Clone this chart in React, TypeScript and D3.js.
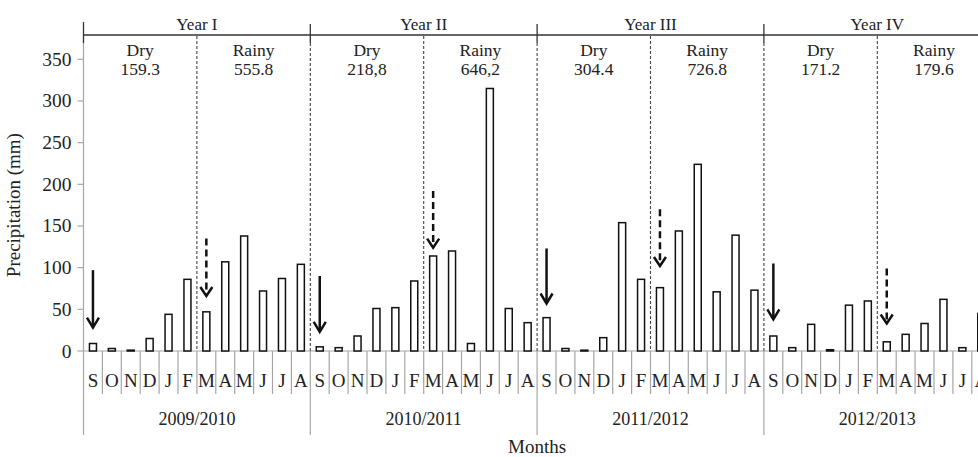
import React from "react";
import * as d3 from "d3";

const months = ["S", "O", "N", "D", "J", "F", "M", "A", "M", "J", "J", "A"];
const seasons = ["2009/2010", "2010/2011", "2011/2012", "2012/2013"];
const yearLabels = ["Year I", "Year II", "Year III", "Year IV"];
const dryTotals = ["159.3", "218,8", "304.4", "171.2"];
const rainyTotals = ["555.8", "646,2", "726.8", "179.6"];

// monthly precipitation (mm), Sep -> Aug
const precip2009 = [9, 3, 1, 15, 44, 86, 47, 107, 138, 72, 87, 104];
const precip2010 = [5, 4, 18, 51, 52, 84, 114, 120, 9, 315, 51, 34];
const precip2011 = [40, 3, 1, 16, 154, 86, 76, 144, 224, 71, 139, 73];
const precip2012 = [18, 4, 32, 1.5, 55, 60, 11, 20, 33, 62, 4, 45];

const yTicks = [0, 50, 100, 150, 200, 250, 300, 350];

// arrows: [top, tip] in mm; solid on S (dry start), dashed on M (rainy start)
const solidArrows = [[97, 28], [90, 23], [123, 57], [105, 38]];
const dashedArrows = [[135, 66], [192, 124], [170, 102], [99, 33]];

const W = 978;
const H = 457;
const serif = { fontFamily: "'Liberation Serif', 'Times New Roman', serif" };
const textColor = "#222";
const gray = "#a6a6a6";

export default function App() {
  const values = [...precip2009, ...precip2010, ...precip2011, ...precip2012];
  const idx = d3.range(values.length);

  const x = d3.scaleBand<number>().domain(idx).range([83.5, 83.5 + 48 * 18.9]).padding(0);
  const y = d3.scaleLinear().domain([0, 350]).range([351, 59.3]);
  const bw = x.bandwidth();
  const barW = 7;
  const edge = (i: number) => (x(i) as number);
  const mid = (i: number) => edge(i) + bw / 2;
  const x0 = edge(0);
  const xEnd = x0 + 48 * bw;

  const yearStarts = d3.range(4).map((k) => k * 12);

  return (
    <svg width={W} height={H} style={{ position: "absolute", left: 0, top: 0, background: "#fff", ...serif }}>
      {/* y axis */}
      <line x1={x0} x2={x0} y1={40} y2={435} stroke={gray} strokeWidth={1.2} />
      <line x1={x0} x2={x0} y1={22} y2={43} stroke="#333" strokeWidth={1.3} />
      {yTicks.map((t) => (
        <g key={t}>
          <line x1={x0 - 6} x2={x0} y1={y(t)} y2={y(t)} stroke={gray} strokeWidth={1.2} />
          <text x={x0 - 12} y={y(t) + 6.5} textAnchor="end" fontSize={19.5} fill={textColor} style={serif}>{t}</text>
        </g>
      ))}
      <text transform={`translate(20,${y(175)}) rotate(-90)`} textAnchor="middle" fontSize={19}
        fill={textColor} style={serif}>Precipitation (mm)</text>

      {/* x axis */}
      <line x1={x0} x2={W} y1={y(0)} y2={y(0)} stroke={gray} strokeWidth={1.2} />
      {idx.map((i) => (
        <g key={i}>
          {i > 0 && i % 12 !== 0 && (
            <line x1={edge(i)} x2={edge(i)} y1={y(0)} y2={394} stroke={gray} strokeWidth={1.2} />
          )}
          <text x={mid(i)} y={387} textAnchor="middle" fontSize={19} fill={textColor} style={serif}>{months[i % 12]}</text>
        </g>
      ))}
      {yearStarts.map((s, k) => (
        <g key={k}>
          {k > 0 && <line x1={edge(s)} x2={edge(s)} y1={y(0)} y2={435} stroke={gray} strokeWidth={1.2} />}
          <text x={edge(s) + 6 * bw} y={425} textAnchor="middle" fontSize={18} fill={textColor} style={serif}>{seasons[k]}</text>
        </g>
      ))}
      <text x={(x0 + xEnd) / 2} y={453} textAnchor="middle" fontSize={19} fill={textColor} style={serif}>Months</text>

      {/* top bracket */}
      <line x1={x0} x2={W} y1={35} y2={35} stroke="#333" strokeWidth={1.3} />
      {yearStarts.map((s, k) => (
        <g key={k}>
          {k > 0 && <line x1={edge(s)} x2={edge(s)} y1={24} y2={43} stroke="#333" strokeWidth={1.3} />}
          {k > 0 && (
            <line x1={edge(s)} x2={edge(s)} y1={43} y2={y(0)} stroke="#444" strokeWidth={1.1}
              strokeDasharray="3,2" />
          )}
          <line x1={edge(s + 6)} x2={edge(s + 6)} y1={36} y2={y(0)} stroke="#444" strokeWidth={1.1}
            strokeDasharray="3,2" />
          <text x={edge(s) + 6 * bw} y={30} textAnchor="middle" fontSize={17} fill={textColor} style={serif}>{yearLabels[k]}</text>
          <text x={edge(s) + 3 * bw} y={56} textAnchor="middle" fontSize={17.5} fill={textColor} style={serif}>Dry</text>
          <text x={edge(s) + 3 * bw} y={75} textAnchor="middle" fontSize={17.5} fill={textColor} style={serif}>{dryTotals[k]}</text>
          <text x={edge(s) + 9 * bw} y={56} textAnchor="middle" fontSize={17.5} fill={textColor} style={serif}>Rainy</text>
          <text x={edge(s) + 9 * bw} y={75} textAnchor="middle" fontSize={17.5} fill={textColor} style={serif}>{rainyTotals[k]}</text>
        </g>
      ))}

      {/* bars */}
      {values.map((v, i) => (
        <rect key={i} x={mid(i) - barW / 2} y={y(v)} width={barW} height={Math.max(0.5, y(0) - y(v))}
          fill="#fff" stroke="#111" strokeWidth={1.5} />
      ))}

      {/* arrows */}
      {yearStarts.map((s, k) => {
        const sx = mid(s);
        const [st, sp] = solidArrows[k];
        const dx = mid(s + 6);
        const [dt, dp] = dashedArrows[k];
        return (
          <g key={k} stroke="#111" strokeWidth={2.5} fill="none">
            <line x1={sx} x2={sx} y1={y(st)} y2={y(sp) - 1} />
            <path d={`M${sx - 6},${y(sp) - 10}L${sx},${y(sp)}L${sx + 6},${y(sp) - 10}`} />
            <line x1={dx} x2={dx} y1={y(dt)} y2={y(dp) - 1} strokeDasharray="7,4" />
            <path d={`M${dx - 6},${y(dp) - 9}L${dx},${y(dp)}L${dx + 6},${y(dp) - 9}`} />
          </g>
        );
      })}
    </svg>
  );
}
